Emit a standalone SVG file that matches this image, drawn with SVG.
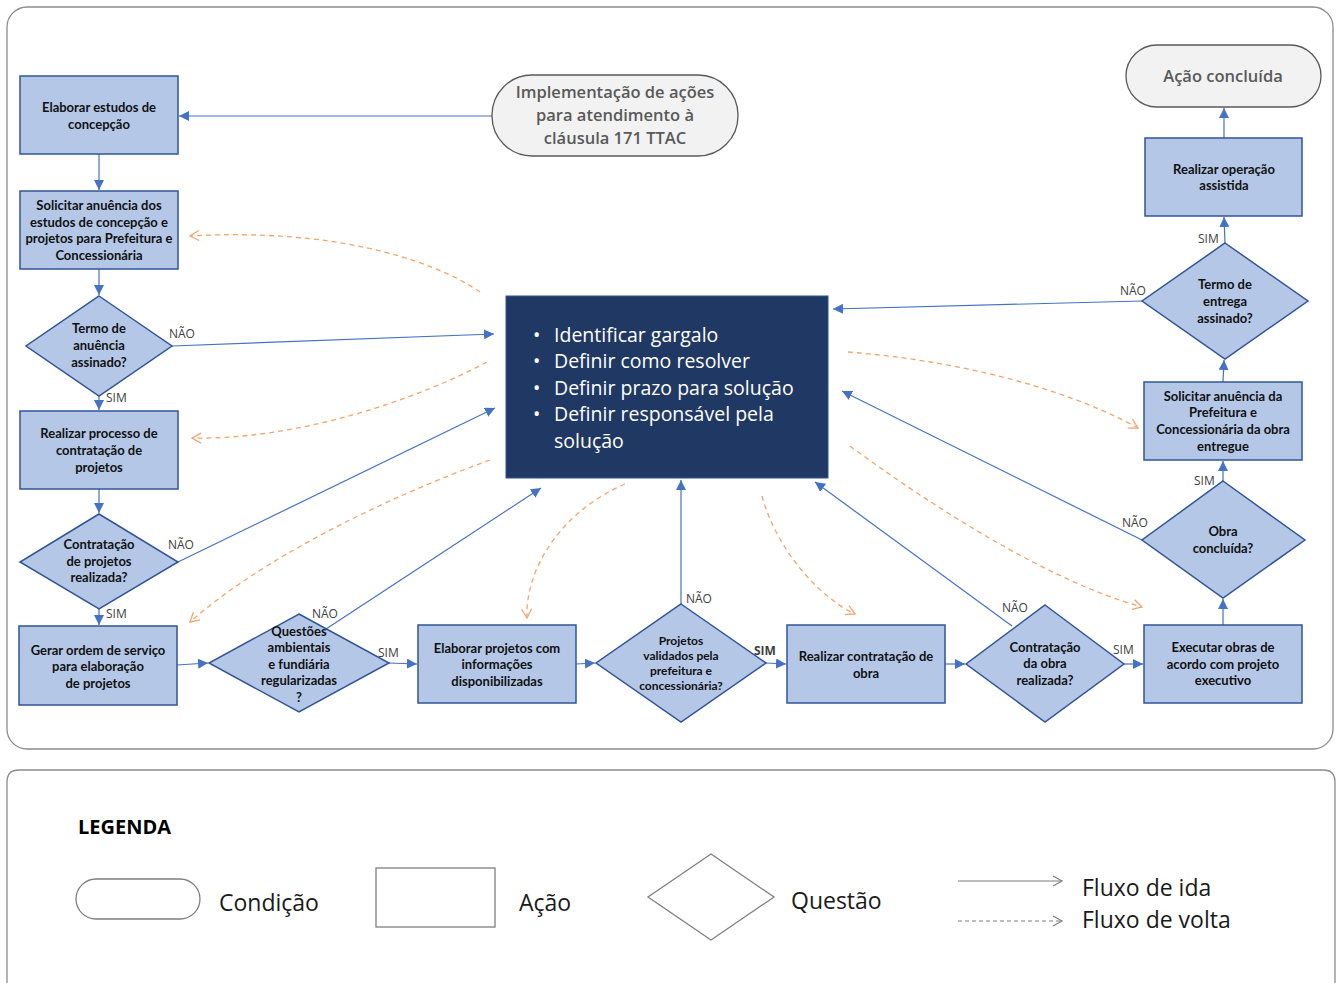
<svg xmlns="http://www.w3.org/2000/svg" width="1336" height="983" viewBox="0 0 1336 983">
<defs>
<style>
.frame{fill:#fff;stroke:#8c8c8c;stroke-width:1.3}
.act{fill:#b4c7e7;stroke:#2f5597;stroke-width:1.5}
.q{fill:#b4c7e7;stroke:#2f5597;stroke-width:1.5}
.cond{fill:#f2f2f2;stroke:#595959;stroke-width:1.3}
.t{font-family:Lato,"Liberation Sans",sans-serif;font-weight:bold;font-size:13px;fill:#111;text-anchor:middle}
.ts{font-size:12px}
.ct{font-family:"Open Sans","Liberation Sans",sans-serif;font-weight:600;font-size:16.5px;fill:#595959;text-anchor:middle}
.lbl{font-family:"Open Sans","Liberation Sans",sans-serif;font-size:12px;fill:#404040}
.fw{stroke:#4472c4;stroke-width:1.2;fill:none;marker-end:url(#ah)}
.bk{stroke:#f4a46c;stroke-width:1.3;fill:none;stroke-dasharray:5 4;marker-end:url(#oh)}
.ctr{font-family:"Open Sans","Liberation Sans",sans-serif;font-size:19.5px;fill:#fff}
.lg{font-family:"Open Sans","Liberation Sans",sans-serif;font-size:23px;fill:#1a1a1a}
.lgs{fill:#fff;stroke:#7f7f7f;stroke-width:1.3}
</style>
<marker id="ah" markerUnits="userSpaceOnUse" markerWidth="11" markerHeight="10" refX="10" refY="5" orient="auto"><path d="M0,0 L10,5 L0,10 z" fill="#4472c4"/></marker>
<marker id="oh" markerUnits="userSpaceOnUse" markerWidth="12" markerHeight="12" refX="10" refY="6" orient="auto"><path d="M1,1 L10,6 L1,11" fill="none" stroke="#f4a46c" stroke-width="1.3"/></marker>
<marker id="gh" markerUnits="userSpaceOnUse" markerWidth="12" markerHeight="12" refX="10" refY="6" orient="auto"><path d="M1,1 L10,6 L1,11" fill="none" stroke="#7f7f7f" stroke-width="1.2"/></marker>
</defs>
<rect width="1336" height="983" fill="#fff"/>
<rect class="frame" x="7" y="7" width="1326" height="742" rx="20"/>
<path class="frame" d="M7,990 V782 Q7,770 19,770 H1323 Q1335,770 1335,782 V990"/>

<g id="connectors">
<path class="fw" d="M492,116 L179,116"/>
<path class="fw" d="M99,154 L99,190"/>
<path class="fw" d="M99,269 L99,295"/>
<path class="fw" d="M99,396 L99,410"/>
<path class="fw" d="M172,346 L494,334"/>
<path class="fw" d="M99,489 L99,513"/>
<path class="fw" d="M178,562 L495,408"/>
<path class="fw" d="M99,608 L99,625"/>
<path class="fw" d="M177,665 L208,663"/>
<path class="fw" d="M326,629 L541,488"/>
<path class="fw" d="M389,663 L417,664"/>
<path class="fw" d="M576,664 L595,663"/>
<path class="fw" d="M681,604 L681,480"/>
<path class="fw" d="M766,663 L786,664"/>
<path class="fw" d="M945,664 L965,664"/>
<path class="fw" d="M1012,626 L815,482"/>
<path class="fw" d="M1124,664 L1143,664"/>
<path class="fw" d="M1223,625 L1223,599"/>
<path class="fw" d="M1142,540 L842,391"/>
<path class="fw" d="M1223,481 L1223,461"/>
<path class="fw" d="M1223,382 L1224,360"/>
<path class="fw" d="M1142,301 L833,309"/>
<path class="fw" d="M1225,243 L1224,217"/>
<path class="fw" d="M1224,138 L1224,108"/>
<path class="bk" d="M480,292 C430,258 330,228 190,236"/>
<path class="bk" d="M487,362 C420,398 300,440 192,438"/>
<path class="bk" d="M490,460 C380,500 260,560 190,622"/>
<path class="bk" d="M625,484 C560,512 525,570 527,618"/>
<path class="bk" d="M762,496 C775,545 815,595 855,614"/>
<path class="bk" d="M850,446 C930,505 1050,582 1142,607"/>
<path class="bk" d="M848,352 C950,360 1060,385 1138,428"/>
<text class="lbl" x="169" y="338">NÃO</text>
<text class="lbl" x="106" y="402">SIM</text>
<text class="lbl" x="168" y="549">NÃO</text>
<text class="lbl" x="106" y="618">SIM</text>
<text class="lbl" x="312" y="618">NÃO</text>
<text class="lbl" x="378" y="657">SIM</text>
<text class="lbl" x="686" y="603">NÃO</text>
<text class="lbl" x="754" y="655" font-weight="bold">SIM</text>
<text class="lbl" x="1002" y="612">NÃO</text>
<text class="lbl" x="1113" y="654">SIM</text>
<text class="lbl" x="1122" y="527">NÃO</text>
<text class="lbl" x="1194" y="485">SIM</text>
<text class="lbl" x="1120" y="295">NÃO</text>
<text class="lbl" x="1198" y="243">SIM</text>
</g>

<g id="start">
<rect class="cond" x="492" y="75" width="246" height="81" rx="40"/>
<text class="ct" x="615" y="98">Implementação de ações</text>
<text class="ct" x="615" y="121">para atendimento à</text>
<text class="ct" x="615" y="144">cláusula 171 TTAC</text>
</g>
<g id="end">
<rect class="cond" x="1126" y="45" width="195" height="62" rx="31"/>
<text class="ct" x="1223" y="82">Ação concluída</text>
</g>
<g id="center">
<rect x="506" y="296" width="322" height="182" fill="#1f3864" stroke="#2f5597" stroke-width="1"/>
<g class="ctr">
<text x="533" y="342">•</text><text x="554" y="342">Identificar gargalo</text>
<text x="533" y="368">•</text><text x="554" y="368">Definir como resolver</text>
<text x="533" y="395">•</text><text x="554" y="395">Definir prazo para solução</text>
<text x="533" y="421">•</text><text x="554" y="421">Definir responsável pela</text>
<text x="554" y="448">solução</text>
</g>
</g>

<g id="a1"><rect class="act" x="20" y="76" width="158" height="78"/>
<text class="t" x="99" y="112">Elaborar estudos de</text><text class="t" x="99" y="129">concepção</text></g>
<g id="a2"><rect class="act" x="20" y="191" width="158" height="78"/>
<text class="t" x="99" y="210">Solicitar anuência dos</text><text class="t" x="99" y="227">estudos de concepção e</text><text class="t" x="99" y="243">projetos para Prefeitura e</text><text class="t" x="99" y="260">Concessionária</text></g>
<g id="d1"><polygon class="q" points="99,296 172,346 99,396 26,346"/>
<text class="t" x="99" y="333">Termo de</text><text class="t" x="99" y="350">anuência</text><text class="t" x="99" y="367">assinado?</text></g>
<g id="a3"><rect class="act" x="20" y="411" width="158" height="78"/>
<text class="t" x="99" y="438">Realizar processo de</text><text class="t" x="99" y="455">contratação de</text><text class="t" x="99" y="472">projetos</text></g>
<g id="d2"><polygon class="q" points="99,514 178,562 99,609 20,562"/>
<text class="t" x="99" y="549">Contratação</text><text class="t" x="99" y="566">de projetos</text><text class="t" x="99" y="582">realizada?</text></g>
<g id="a4"><rect class="act" x="19" y="626" width="158" height="79"/>
<text class="t" x="98" y="655">Gerar ordem de serviço</text><text class="t" x="98" y="671">para elaboração</text><text class="t" x="98" y="688">de projetos</text></g>
<g id="d3"><polygon class="q" points="299,614 389,663 299,712 209,663"/>
<text class="t" x="299" y="636">Questões</text><text class="t" x="299" y="652">ambientais</text><text class="t" x="299" y="669">e fundiária</text><text class="t" x="299" y="685">regularizadas</text><text class="t" x="299" y="702">?</text></g>
<g id="a5"><rect class="act" x="418" y="625" width="158" height="78"/>
<text class="t" x="497" y="653">Elaborar projetos com</text><text class="t" x="497" y="669">informações</text><text class="t" x="497" y="686">disponibilizadas</text></g>
<g id="d4"><polygon class="q" points="681,604 766,663 681,722 596,663"/>
<text class="t ts" x="681" y="645">Projetos</text><text class="t ts" x="681" y="660">validados pela</text><text class="t ts" x="681" y="675">prefeitura e</text><text class="t ts" x="681" y="690">concessionária?</text></g>
<g id="a6"><rect class="act" x="787" y="625" width="158" height="78"/>
<text class="t" x="866" y="661">Realizar contratação de</text><text class="t" x="866" y="678">obra</text></g>
<g id="d5"><polygon class="q" points="1045,605 1124,664 1045,722 966,664"/>
<text class="t" x="1045" y="652">Contratação</text><text class="t" x="1045" y="668">da obra</text><text class="t" x="1045" y="685">realizada?</text></g>
<g id="a7"><rect class="act" x="1144" y="625" width="158" height="78"/>
<text class="t" x="1223" y="652">Executar obras de</text><text class="t" x="1223" y="669">acordo com projeto</text><text class="t" x="1223" y="685">executivo</text></g>
<g id="d6"><polygon class="q" points="1223,481 1305,540 1223,598 1142,540"/>
<text class="t" x="1223" y="536">Obra</text><text class="t" x="1223" y="553">concluída?</text></g>
<g id="a8"><rect class="act" x="1144" y="382" width="158" height="78"/>
<text class="t" x="1223" y="401">Solicitar anuência da</text><text class="t" x="1223" y="417">Prefeitura e</text><text class="t" x="1223" y="434">Concessionária da obra</text><text class="t" x="1223" y="451">entregue</text></g>
<g id="d7"><polygon class="q" points="1225,243 1308,301 1225,359 1142,301"/>
<text class="t" x="1225" y="289">Termo de</text><text class="t" x="1225" y="306">entrega</text><text class="t" x="1225" y="323">assinado?</text></g>
<g id="a9"><rect class="act" x="1145" y="138" width="157" height="78"/>
<text class="t" x="1224" y="174">Realizar operação</text><text class="t" x="1224" y="190">assistida</text></g>

<g id="legend">
<text x="78" y="834" font-family="Open Sans, Liberation Sans, sans-serif" font-weight="bold" font-size="20" fill="#000">LEGENDA</text>
<rect class="lgs" x="76" y="879" width="124" height="40" rx="20"/>
<text class="lg" x="219" y="911">Condição</text>
<rect class="lgs" x="376" y="868" width="119" height="59"/>
<text class="lg" x="519" y="911">Ação</text>
<polygon class="lgs" points="711,854 774,897 711,940 648,897"/>
<text class="lg" x="791" y="909">Questão</text>
<path d="M958,881 L1062,881" stroke="#7f7f7f" stroke-width="1.2" fill="none" marker-end="url(#gh)"/>
<path d="M958,921 L1062,921" stroke="#7f7f7f" stroke-width="1.2" fill="none" stroke-dasharray="4 3" marker-end="url(#gh)"/>
<text class="lg" x="1082" y="896">Fluxo de ida</text>
<text class="lg" x="1082" y="928">Fluxo de volta</text>
</g>
</svg>
